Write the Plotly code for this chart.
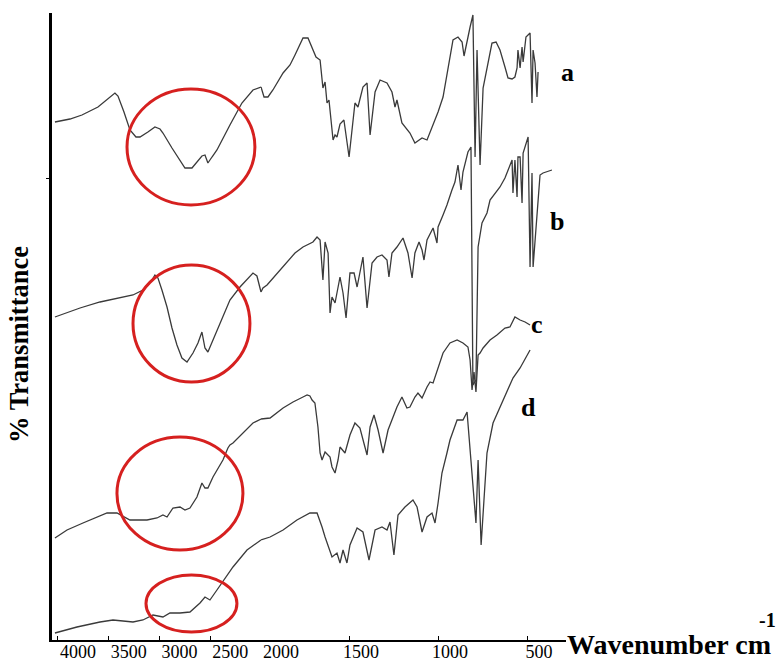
import plotly.graph_objects as go

# ---- data (wavenumber cm-1, stacked transmittance, arbitrary units) ----
a_wn = [4030,3882,3764,3606,3439,3409,3350,3291,3232,3192,3114,3045,2995,2966,2877,2798,2749,2680,2621,2582,2552,2523,2483,2434,2306,2188,2079,2000,1983,1961,1933,1876,1837,1809,1781,1764,1736,1713,1691,1668,1652,1640,1629,1618,1595,1584,1573,1556,1534,1505,1489,1472,1455,1427,1404,1387,1359,1331,1292,1264,1247,1236,1208,1163,1135,1095,1067,1033,1005,977,949,921,893,870,859,842,825,809,797,786,769,752,730,702,679,657,629,612,589,573,561,556,544,533,527,511,488,477,471,460,449,443]
a_t = [103.6,104.2,105,106.6,109.4,108.8,105.6,102,100.6,100.6,101.6,102.6,102.2,101.4,98.4,96,94.4,94.4,95.8,96.8,97,95.4,96.6,98,103,107.4,110,110.6,108.6,108.6,110,113.4,115,117,119,120.4,120.4,118.4,116.6,116,110.4,111.6,107.4,108,100,101,100.6,103.2,104,96.6,102,107.4,106.6,110.6,111.4,101,109.6,112,111.4,109.6,106.6,108,103.4,101.4,99.4,100.4,100,103,105.6,108.6,114.6,120,120.6,119.6,116.8,120,122.6,125,96.6,118,95,110.4,114.6,119.4,119.6,118,114.6,112.4,112.2,112.6,114.4,118,114.4,118.6,115.6,120.6,121.4,107.4,118,115.4,108.6,113.6]

b_wn = [4030,3783,3586,3389,3261,3163,3074,3045,3015,2976,2926,2877,2828,2779,2729,2670,2621,2582,2552,2523,2473,2404,2306,2207,2079,2040,2010,2000,1989,1966,1893,1837,1809,1764,1708,1685,1668,1652,1640,1623,1612,1601,1584,1556,1539,1522,1500,1477,1460,1427,1404,1376,1348,1320,1292,1281,1264,1236,1202,1174,1151,1135,1112,1095,1084,1067,1033,1011,1005,977,955,927,910,893,876,865,837,820,809,792,780,758,730,713,685,657,629,612,589,584,573,561,556,544,533,527,505,499,488,477,471,449,432,415,365]
b_t = [64.6,66.4,67.6,68.4,69,70,72,73,72.4,70,66.6,62.4,59,56.4,55.6,57.4,59.4,61.6,58.4,57.6,60,63.6,68,70.6,73.4,72.8,70,69.6,70.4,71,74,76.4,77.4,78.6,79.6,80.6,80,72,79.6,77.4,65.4,68.6,67.4,72.6,69.4,64.4,73.4,73.4,70.6,76.6,66.4,75.4,76.6,77,76,72.6,77.4,78.6,80.4,77.4,72.4,77.4,79.6,78,76,80,82.4,79.4,82.6,85,87,90,91.6,95,90,93.6,97.6,98.6,51,52,78.6,83.4,85.4,88,89.4,90.6,92.4,94,96,89.4,96,88.6,96.6,96.6,87.4,97.4,100,100.6,74.6,93.4,74.6,86,93,93.4,94]

c_wn = [4030,3911,3754,3517,3419,3291,3123,3025,2966,2926,2867,2798,2749,2700,2631,2582,2552,2523,2473,2375,2326,2306,2276,2178,2079,2000,1949,1876,1820,1764,1741,1725,1713,1697,1680,1668,1657,1640,1623,1612,1601,1584,1567,1556,1528,1500,1472,1444,1416,1404,1387,1365,1342,1314,1286,1258,1236,1208,1180,1163,1135,1118,1095,1067,1050,1033,1005,977,938,898,865,837,825,814,803,792,780,769,752,713,674,629,601,573,544,516,488]
c_t = [20.4,22,23.4,25.4,25.4,24,24,24.4,25,24.6,26.4,26.6,26,26.4,28.6,31.4,30.4,30.4,32.6,36,38.4,39,39.4,41.4,43.4,44.2,44.4,46.4,47.6,48.6,49,48.8,48,47.4,42.6,37.4,36,37.6,37,36.6,34.6,33.4,36,38.6,37.4,41,43.4,42.4,38.6,37,42.6,45,42,37.4,42,44.6,46.6,48.6,46.4,46.6,48.6,49.4,48.4,50.6,51.6,51.4,54.6,57.4,59.4,60,59.4,58.6,56,50,53.6,49.6,57,57.4,58.4,60,61,62.4,62.6,64.6,64,63.6,63]

d_wn = [4030,3813,3586,3458,3261,3163,3064,2966,2897,2798,2700,2601,2552,2503,2434,2276,2138,2000,1949,1876,1798,1725,1685,1657,1640,1601,1573,1556,1539,1517,1500,1460,1427,1393,1359,1320,1292,1275,1253,1230,1191,1146,1123,1095,1067,1039,1022,1005,983,955,938,898,865,842,825,803,792,780,763,747,730,696,640,584,544,488]
d_t = [1.4,2.6,3.6,4,3.6,4,5,4.6,5.4,5.4,5.6,7.4,8.6,8,10,14.6,18,20,20.6,22,24,25.4,25.4,22.6,20.6,16.6,17.4,15.4,18,15.4,19,22.4,21.6,16,22,22.6,22,23.6,17,25,26.6,28,26.6,21.6,24.6,25.4,23.4,27.4,33.4,37.4,40,44,44,45.6,37.4,28,23.4,36,19,28,37.4,43.4,48,52.4,54.4,58]

series_names = ["a", "b", "c", "d"]
series_wn = [a_wn, b_wn, c_wn, d_wn]
series_t = [a_t, b_t, c_t, d_t]

ticks_high = [4000, 3500, 3000, 2500, 2000]
ticks_low = [1500, 1000, 500]
scale_break = 2000  # axis scale changes here

# regions of interest (C-H stretch) circled in red: (wn_left, wn_right, t_low, t_high)
circles = [(3320, 2060, 87, 110.2), (3261, 2109, 51.6, 75), (3419, 2178, 18, 40.6), (3133, 2237, 1.6, 13)]

for w, t in zip(series_wn, series_t):
    assert len(w) == len(t)

LINE = "#3a3a3a"
RED = "#d6201f"
SERIF = "Liberation Serif, Times New Roman, serif"

fig = go.Figure()
for name, w, t in zip(series_names, series_wn, series_t):
    hi = [(x, y) for x, y in zip(w, t) if x >= scale_break]
    lo = [(x, y) for x, y in zip(w, t) if x <= scale_break]
    fig.add_trace(go.Scatter(x=[p[0] for p in hi], y=[p[1] for p in hi], mode="lines",
                             line=dict(color=LINE, width=1.3), xaxis="x", yaxis="y",
                             showlegend=False, name=name))
    fig.add_trace(go.Scatter(x=[p[0] for p in lo], y=[p[1] for p in lo], mode="lines",
                             line=dict(color=LINE, width=1.3), xaxis="x2", yaxis="y",
                             showlegend=False, name=name))

W, H = 778, 661
L, R, T, B = 52, 212, 13, 21
pw = W - L - R
split = (261 - L) / pw

axis_common = dict(showline=True, linecolor="black", linewidth=2, showgrid=False,
                   zeroline=False, ticks="inside", ticklen=4, tickcolor="black",
                   tickfont=dict(family=SERIF, size=18, color="black"), anchor="y",
                   ticklabelstandoff=-6)

fig.update_layout(
    width=W, height=H, template="none",
    paper_bgcolor="white", plot_bgcolor="white",
    margin=dict(l=L, r=R, t=T, b=B, autoexpand=False),
    xaxis=dict(domain=[0, split], range=[4059, 2000], tickvals=ticks_high,
               ticktext=[str(v) for v in ticks_high], ticklabelshift=-20, **axis_common),
    xaxis2=dict(domain=[split, 1], range=[2000, 286], tickvals=ticks_low,
                ticktext=[str(v) for v in ticks_low], ticklabelshift=-11, **axis_common),
    yaxis=dict(domain=[0, 1], range=[0, 125.4], showline=True, linecolor="black", linewidth=3,
               showgrid=False, zeroline=False, tickvals=[92.4], showticklabels=False,
               ticks="outside", ticklen=3, tickcolor="black", anchor="x"),
)

for x0, x1, y0, y1 in circles:
    fig.add_shape(type="circle", xref="x", yref="y", x0=x0, x1=x1, y0=y0, y1=y1,
                  line=dict(color=RED, width=3))

def px(xp):
    return (xp - L) / pw

def py(yp):
    return (H - B - yp) / (H - T - B)

label_pos = [(567, 72), (557, 221), (537, 324), (528, 408)]
for name, (xp, yp) in zip(series_names, label_pos):
    fig.add_annotation(x=px(xp), y=py(yp), xref="paper", yref="paper", text=name,
                       showarrow=False, xanchor="center", yanchor="middle",
                       font=dict(family=SERIF, size=26, color="black", weight="bold"))

fig.add_annotation(x=px(565), y=py(644), xref="paper", yref="paper", text="Wavenumber cm",
                   showarrow=False, xanchor="left", yanchor="middle",
                   font=dict(family=SERIF, size=28, color="black", weight="bold"))
fig.add_annotation(x=px(757), y=py(620), xref="paper", yref="paper", text="-1",
                   showarrow=False, xanchor="left", yanchor="middle",
                   font=dict(family=SERIF, size=20, color="black", weight="bold"))
fig.add_annotation(x=px(19), y=py(345), xref="paper", yref="paper", text="% Transmittance",
                   showarrow=False, textangle=-90, xanchor="center", yanchor="middle",
                   font=dict(family=SERIF, size=26.5, color="black", weight="bold"))

fig.write_html("out.html", config={"displayModeBar": False},
               post_script="document.body.style.margin='0px';document.body.style.overflow='hidden';")
